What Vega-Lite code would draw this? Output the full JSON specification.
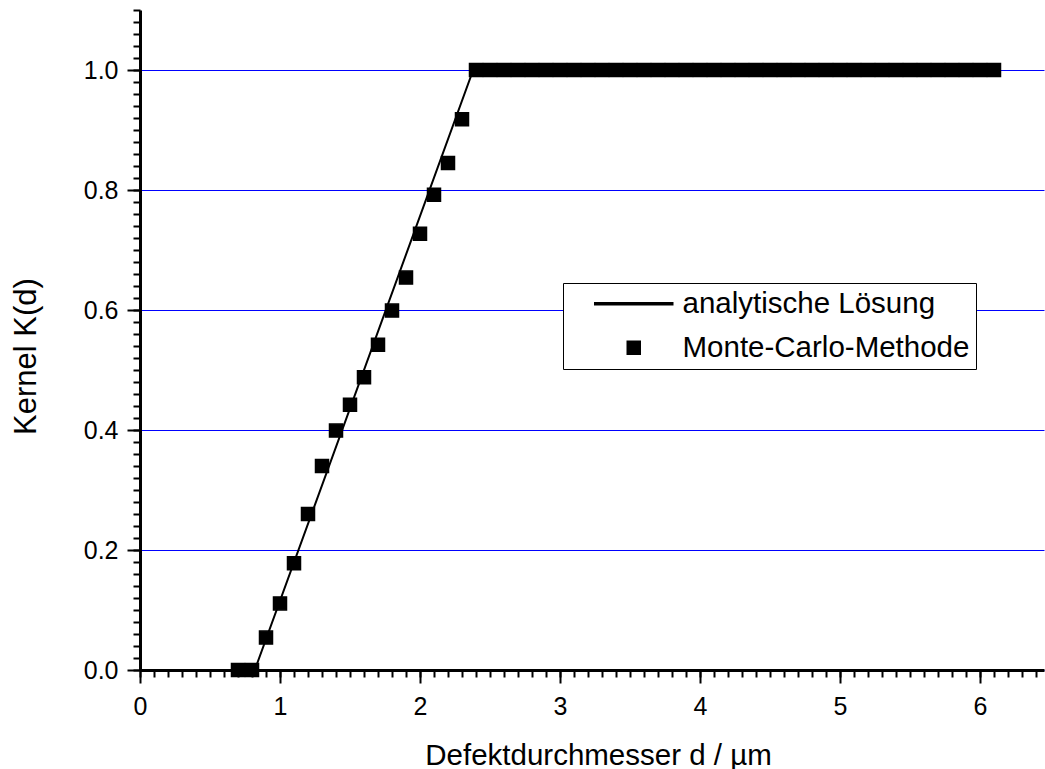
{
  "$schema": "https://vega.github.io/schema/vega-lite/v6.json",
  "width": 904,
  "height": 660,
  "autosize": {"type": "none"},
  "padding": {"left": 140, "top": 10, "right": 1, "bottom": 99},
  "background": "white",
  "config": {"view": {"stroke": null}, "font": "Liberation Sans"},
  "resolve": {"axis": {"x": "independent", "y": "independent"}},
  "datasets": {
    "analytic": [
      {"d": 0.82, "k": 0},
      {"d": 2.38, "k": 1},
      {"d": 6.1, "k": 1}
    ],
    "mc": [
      {"d": 0.7, "k": 0, "series": "Monte-Carlo-Methode"},
      {"d": 0.8, "k": 0, "series": "Monte-Carlo-Methode"},
      {"d": 0.9, "k": 0.054, "series": "Monte-Carlo-Methode"},
      {"d": 1.0, "k": 0.111, "series": "Monte-Carlo-Methode"},
      {"d": 1.1, "k": 0.178, "series": "Monte-Carlo-Methode"},
      {"d": 1.2, "k": 0.26, "series": "Monte-Carlo-Methode"},
      {"d": 1.3, "k": 0.34, "series": "Monte-Carlo-Methode"},
      {"d": 1.4, "k": 0.399, "series": "Monte-Carlo-Methode"},
      {"d": 1.5, "k": 0.442, "series": "Monte-Carlo-Methode"},
      {"d": 1.6, "k": 0.488, "series": "Monte-Carlo-Methode"},
      {"d": 1.7, "k": 0.542, "series": "Monte-Carlo-Methode"},
      {"d": 1.8, "k": 0.599, "series": "Monte-Carlo-Methode"},
      {"d": 1.9, "k": 0.654, "series": "Monte-Carlo-Methode"},
      {"d": 2.0, "k": 0.727, "series": "Monte-Carlo-Methode"},
      {"d": 2.1, "k": 0.792, "series": "Monte-Carlo-Methode"},
      {"d": 2.2, "k": 0.845, "series": "Monte-Carlo-Methode"},
      {"d": 2.3, "k": 0.918, "series": "Monte-Carlo-Methode"},
      {"d": 2.4, "k": 1, "series": "Monte-Carlo-Methode"},
      {"d": 2.5, "k": 1, "series": "Monte-Carlo-Methode"},
      {"d": 2.6, "k": 1, "series": "Monte-Carlo-Methode"},
      {"d": 2.7, "k": 1, "series": "Monte-Carlo-Methode"},
      {"d": 2.8, "k": 1, "series": "Monte-Carlo-Methode"},
      {"d": 2.9, "k": 1, "series": "Monte-Carlo-Methode"},
      {"d": 3.0, "k": 1, "series": "Monte-Carlo-Methode"},
      {"d": 3.1, "k": 1, "series": "Monte-Carlo-Methode"},
      {"d": 3.2, "k": 1, "series": "Monte-Carlo-Methode"},
      {"d": 3.3, "k": 1, "series": "Monte-Carlo-Methode"},
      {"d": 3.4, "k": 1, "series": "Monte-Carlo-Methode"},
      {"d": 3.5, "k": 1, "series": "Monte-Carlo-Methode"},
      {"d": 3.6, "k": 1, "series": "Monte-Carlo-Methode"},
      {"d": 3.7, "k": 1, "series": "Monte-Carlo-Methode"},
      {"d": 3.8, "k": 1, "series": "Monte-Carlo-Methode"},
      {"d": 3.9, "k": 1, "series": "Monte-Carlo-Methode"},
      {"d": 4.0, "k": 1, "series": "Monte-Carlo-Methode"},
      {"d": 4.1, "k": 1, "series": "Monte-Carlo-Methode"},
      {"d": 4.2, "k": 1, "series": "Monte-Carlo-Methode"},
      {"d": 4.3, "k": 1, "series": "Monte-Carlo-Methode"},
      {"d": 4.4, "k": 1, "series": "Monte-Carlo-Methode"},
      {"d": 4.5, "k": 1, "series": "Monte-Carlo-Methode"},
      {"d": 4.6, "k": 1, "series": "Monte-Carlo-Methode"},
      {"d": 4.7, "k": 1, "series": "Monte-Carlo-Methode"},
      {"d": 4.8, "k": 1, "series": "Monte-Carlo-Methode"},
      {"d": 4.9, "k": 1, "series": "Monte-Carlo-Methode"},
      {"d": 5.0, "k": 1, "series": "Monte-Carlo-Methode"},
      {"d": 5.1, "k": 1, "series": "Monte-Carlo-Methode"},
      {"d": 5.2, "k": 1, "series": "Monte-Carlo-Methode"},
      {"d": 5.3, "k": 1, "series": "Monte-Carlo-Methode"},
      {"d": 5.4, "k": 1, "series": "Monte-Carlo-Methode"},
      {"d": 5.5, "k": 1, "series": "Monte-Carlo-Methode"},
      {"d": 5.6, "k": 1, "series": "Monte-Carlo-Methode"},
      {"d": 5.7, "k": 1, "series": "Monte-Carlo-Methode"},
      {"d": 5.8, "k": 1, "series": "Monte-Carlo-Methode"},
      {"d": 5.9, "k": 1, "series": "Monte-Carlo-Methode"},
      {"d": 6.0, "k": 1, "series": "Monte-Carlo-Methode"},
      {"d": 6.1, "k": 1, "series": "Monte-Carlo-Methode"}
    ]
  },
  "layer": [
    {
      "data": {"name": "analytic"},
      "mark": {"type": "line", "strokeWidth": 2, "color": "black"},
      "encoding": {
        "x": {
          "field": "d",
          "type": "quantitative",
          "scale": {"domain": [0, 6.457142857], "nice": false, "zero": false},
          "axis": {
            "orient": "bottom",
            "zindex": 1,
            "values": [0, 1, 2, 3, 4, 5, 6],
            "tickCount": 100,
            "format": "d",
            "title": "Defektdurchmesser d / µm",
            "titleFont": "Liberation Sans",
            "titleFontSize": 29.5,
            "titleFontWeight": "normal",
            "titleColor": "black",
            "titleBaseline": "alphabetic",
            "titleX": 458,
            "titleY": 94,
            "labelFont": "Liberation Sans",
            "labelFontSize": 25,
            "labelColor": "black",
            "labelPadding": 11,
            "labelFlush": false,
            "labelOverlap": false,
            "tickSize": 13,
            "tickWidth": 2,
            "tickColor": "black",
            "domainColor": "black",
            "domainWidth": 3,
            "grid": false
          }
        },
        "y": {
          "field": "k",
          "type": "quantitative",
          "scale": {"domain": [0, 1.1], "nice": false, "zero": false},
          "axis": {
            "orient": "left",
            "values": [0, 0.2, 0.4, 0.6, 0.8, 1.0],
            "tickCount": 100,
            "format": ".1f",
            "title": "Kernel K(d)",
            "titleFont": "Liberation Sans",
            "titleFontSize": 31,
            "titleFontWeight": "normal",
            "titleColor": "black",
            "titleBaseline": "alphabetic",
            "titleAngle": -90,
            "titleX": -105,
            "titleY": 346,
            "labelFont": "Liberation Sans",
            "labelFontSize": 25,
            "labelColor": "black",
            "labelPadding": 9,
            "labelFlush": false,
            "labelOverlap": false,
            "tickSize": 13,
            "tickWidth": 2,
            "tickColor": "black",
            "domainColor": "black",
            "domainWidth": 3,
            "grid": true,
            "gridColor": "#0000ff",
            "gridWidth": 1,
            "gridOpacity": 1
          }
        }
      }
    },
    {
      "data": {"name": "mc"},
      "mark": {"type": "point", "filled": true, "size": 169, "opacity": 1, "color": "black", "stroke": "black", "strokeWidth": 1.5},
      "encoding": {
        "x": {
          "field": "d",
          "type": "quantitative",
          "axis": {
            "orient": "bottom",
            "values": [0, 0.1, 0.2, 0.3, 0.4, 0.5, 0.6, 0.7, 0.8, 0.9, 1, 1.1, 1.2, 1.3, 1.4, 1.5, 1.6, 1.7, 1.8, 1.9, 2, 2.1, 2.2, 2.3, 2.4, 2.5, 2.6, 2.7, 2.8, 2.9, 3, 3.1, 3.2, 3.3, 3.4, 3.5, 3.6, 3.7, 3.8, 3.9, 4, 4.1, 4.2, 4.3, 4.4, 4.5, 4.6, 4.7, 4.8, 4.9, 5, 5.1, 5.2, 5.3, 5.4, 5.5, 5.6, 5.7, 5.8, 5.9, 6, 6.1, 6.2, 6.3, 6.4],
            "tickCount": 200,
            "title": null,
            "labels": false,
            "domain": false,
            "grid": false,
            "tickSize": 7,
            "tickWidth": 2,
            "tickColor": "black"
          }
        },
        "y": {
          "field": "k",
          "type": "quantitative",
          "axis": {
            "orient": "left",
            "values": [0, 0.02, 0.04, 0.06, 0.08, 0.1, 0.12, 0.14, 0.16, 0.18, 0.2, 0.22, 0.24, 0.26, 0.28, 0.3, 0.32, 0.34, 0.36, 0.38, 0.4, 0.42, 0.44, 0.46, 0.48, 0.5, 0.52, 0.54, 0.56, 0.58, 0.6, 0.62, 0.64, 0.66, 0.68, 0.7, 0.72, 0.74, 0.76, 0.78, 0.8, 0.82, 0.84, 0.86, 0.88, 0.9, 0.92, 0.94, 0.96, 0.98, 1.0, 1.02, 1.04, 1.06, 1.08, 1.1],
            "tickCount": 200,
            "title": null,
            "labels": false,
            "domain": false,
            "grid": false,
            "tickSize": 7,
            "tickWidth": 2,
            "tickColor": "black"
          }
        },
        "shape": {
          "field": "series",
          "type": "nominal",
          "scale": {"domain": ["analytische Lösung", "Monte-Carlo-Methode"], "range": ["M-6,-0.14H6V0.14H-6Z", "square"]},
          "legend": {
            "orient": "none",
            "legendX": 423,
            "legendY": 273,
            "title": null,
            "padding": 6,
            "rowPadding": 13,
            "symbolOffset": 50,
            "labelOffset": 34,
            "labelLimit": 0,
            "strokeColor": "black",
            "fillColor": "white",
            "labelFont": "Liberation Sans",
            "labelFontSize": 29.5,
            "labelColor": "black",
            "symbolSize": 169,
            "symbolFillColor": "black",
            "symbolOpacity": 1
          }
        }
      }
    }
  ]
}
